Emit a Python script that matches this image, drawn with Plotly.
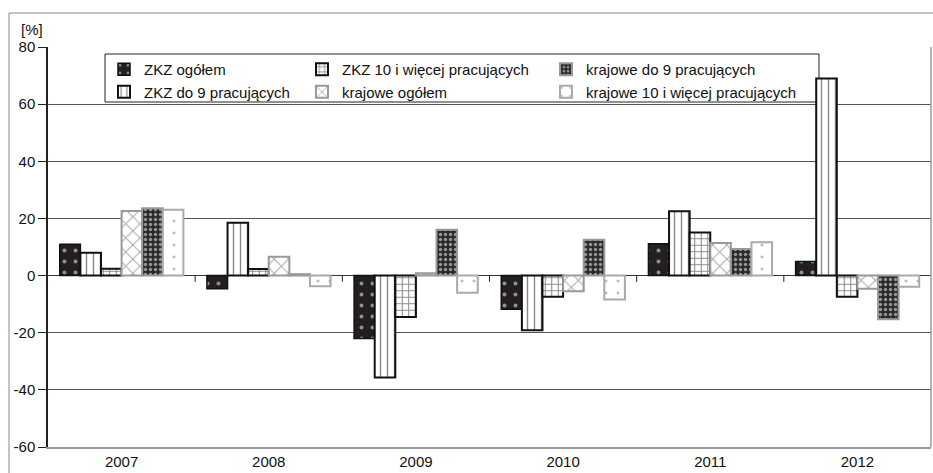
import plotly.graph_objects as go

years = ["2007", "2008", "2009", "2010", "2011", "2012"]
series_names = [
    "ZKZ ogółem",
    "ZKZ do 9 pracujących",
    "ZKZ 10 i więcej pracujących",
    "krajowe ogółem",
    "krajowe do 9 pracujących",
    "krajowe 10 i więcej pracujących",
]
zkz_ogolem = [11.0, -4.6, -22.0, -11.8, 11.1, 4.9]
zkz_do9 = [8.0, 18.5, -35.7, -19.1, 22.5, 69.0]
zkz_10plus = [2.4, 2.3, -14.5, -7.4, 15.1, -7.4]
kraj_ogolem = [22.6, 6.6, 0.8, -5.5, 11.4, -4.6]
kraj_do9 = [23.6, 0.5, 16.0, 12.5, 9.3, -15.3]
kraj_10plus = [23.0, -3.7, -6.0, -8.4, 11.7, -3.9]
values = [zkz_ogolem, zkz_do9, zkz_10plus, kraj_ogolem, kraj_do9, kraj_10plus]
y_ticks = [-60, -40, -20, 0, 20, 40, 60, 80]

FONT = "Liberation Sans Narrow, Arial Narrow, Liberation Sans, Arial, sans-serif"

styles = [
    dict(color="#231f20", pattern=dict(shape=".", fgcolor="#ffffff", bgcolor="#231f20", size=11, solidity=0.1),
         line=dict(color="#111111", width=1.5), legend="legend"),
    dict(color="#ffffff", pattern=dict(shape="|", fgcolor="#111111", bgcolor="#ffffff", size=7, solidity=0.2),
         line=dict(color="#111111", width=2), legend="legend"),
    dict(color="#ffffff", pattern=dict(shape="+", fgcolor="#111111", bgcolor="#ffffff", size=6.5, solidity=0.3),
         line=dict(color="#111111", width=2), legend="legend2"),
    dict(color="#ffffff", pattern=dict(shape="x", fgcolor="#555555", bgcolor="#ffffff", size=10, solidity=0.2),
         line=dict(color="#999999", width=2), legend="legend2"),
    dict(color="#333333", pattern=dict(shape=".", fgcolor="#ffffff", bgcolor="#2a2a2a", size=5, solidity=0.35),
         line=dict(color="#999999", width=2), legend="legend3"),
    dict(color="#ffffff", pattern=dict(shape=".", fgcolor="#777777", bgcolor="#ffffff", size=12, solidity=0.05),
         line=dict(color="#aaaaaa", width=2), legend="legend3"),
]

fig = go.Figure()
for name, vals, st in zip(series_names, values, styles):
    fig.add_trace(go.Bar(
        x=years, y=vals, name=name,
        marker=dict(color=st["color"], pattern=st["pattern"], line=st["line"]),
        legend=st["legend"],
    ))

W, H = 933, 473
ML, MR, MT, MB = 48, 2, 47, 26
pw, ph = W - ML - MR, H - MT - MB


def px(xp):
    return (xp - ML) / pw


def py(yp):
    return (H - MB - yp) / ph


legend_common = dict(orientation="v", bgcolor="rgba(0,0,0,0)", borderwidth=0,
                     font=dict(family=FONT, size=15, color="#111111"),
                     xanchor="left", yanchor="top", y=py(53), tracegroupgap=0,
                     itemwidth=30)

shapes = []
# legend frame
shapes.append(dict(type="rect", xref="paper", yref="paper",
                   x0=px(105), x1=px(819), y0=py(102), y1=py(54),
                   line=dict(color="#222222", width=1), fillcolor="white", layer="below"))
# outer frame
shapes.append(dict(type="rect", xref="paper", yref="paper",
                   x0=px(9), x1=px(945), y0=py(485), y1=py(13),
                   line=dict(color="#888888", width=1), fillcolor="rgba(0,0,0,0)", layer="below"))
# right plot border
shapes.append(dict(type="line", xref="paper", yref="paper", x0=1, x1=1, y0=0, y1=1,
                   line=dict(color="#999999", width=1.5)))
# category boundary ticks on zero line
for i in range(len(years) - 1):
    shapes.append(dict(type="line", xref="x", yref="y", x0=i + 0.5, x1=i + 0.5, y0=0, y1=-2.2,
                       line=dict(color="#222222", width=1)))

fig.update_layout(
    width=W, height=H,
    margin=dict(l=ML, r=MR, t=MT, b=MB),
    paper_bgcolor="white", plot_bgcolor="white",
    barmode="group", bargap=0.16, bargroupgap=0,
    font=dict(family=FONT, size=15, color="#111111"),
    showlegend=True,
    legend=dict(legend_common, x=px(104)),
    legend2=dict(legend_common, x=px(302)),
    legend3=dict(legend_common, x=px(546)),
    shapes=shapes,
    annotations=[dict(text="[%]", xref="paper", yref="paper", x=px(19), y=py(29),
                      xanchor="left", yanchor="middle", showarrow=False,
                      font=dict(family=FONT, size=15, color="#111111"))],
)
fig.update_xaxes(type="category", showgrid=False, ticks="", showline=True, linecolor="#999999",
                 linewidth=1.5, tickfont=dict(family=FONT, size=15), zeroline=False)
fig.update_yaxes(range=[-60, 80], tickvals=y_ticks, ticktext=[str(v) for v in y_ticks],
                 showgrid=True, gridcolor="#555555", gridwidth=1,
                 zeroline=True, zerolinecolor="#333333", zerolinewidth=1.2,
                 showline=True, linecolor="#222222", linewidth=1.5,
                 ticks="outside", ticklen=8, tickcolor="#222222",
                 tickfont=dict(family=FONT, size=15))

fig.write_html("out.html", config={"displayModeBar": False},
               post_script="document.body.style.margin='0';")
